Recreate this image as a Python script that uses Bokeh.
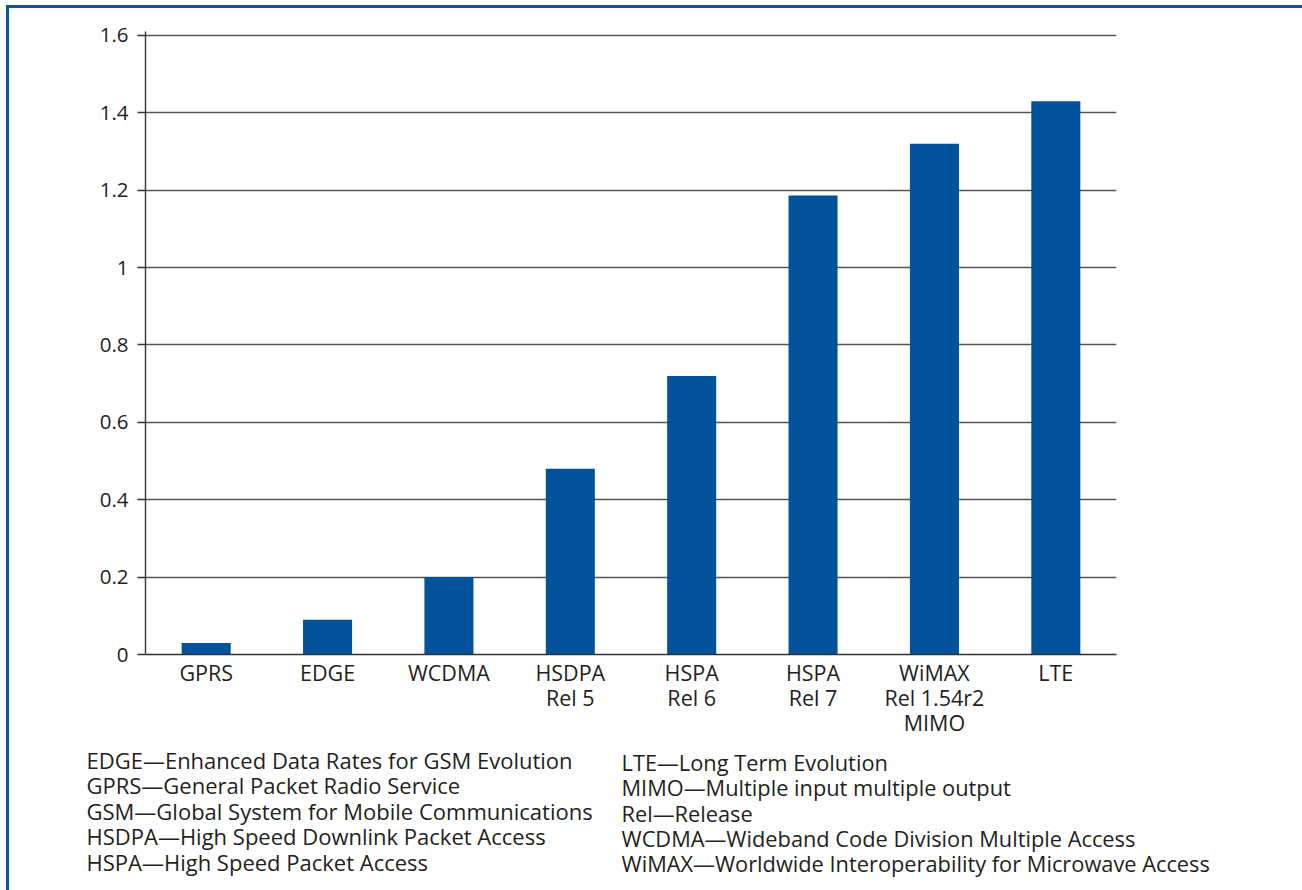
from bokeh.plotting import figure
from bokeh.layouts import column
from bokeh.models import FactorRange, Range1d, FixedTicker
from bokeh.core.properties import value
from bokeh.embed import file_html
from bokeh.resources import INLINE

# ---- data ----
categories = ["GPRS", "EDGE", "WCDMA", "HSDPA\nRel 5", "HSPA\nRel 6",
              "HSPA\nRel 7", "WiMAX\nRel 1.54r2\nMIMO", "LTE"]
values = [0.03, 0.09, 0.20, 0.48, 0.72, 1.186, 1.32, 1.43]
y_ticks = [0, 0.2, 0.4, 0.6, 0.8, 1, 1.2, 1.4, 1.6]
y_tick_labels = ["0", "0.2", "0.4", "0.6", "0.8", "1", "1.2", "1.4", "1.6"]
glossary_left = [
    "EDGE\u2014Enhanced Data Rates for GSM Evolution",
    "GPRS\u2014General Packet Radio Service",
    "GSM\u2014Global System for Mobile Communications",
    "HSDPA\u2014High Speed Downlink Packet Access",
    "HSPA\u2014High Speed Packet Access",
]
glossary_right = [
    "LTE\u2014Long Term Evolution",
    "MIMO\u2014Multiple input multiple output",
    "Rel\u2014Release",
    "WCDMA\u2014Wideband Code Division Multiple Access",
    "WiMAX\u2014Worldwide Interoperability for Microwave Access",
]

FONT = "Open Sans"
TEXT_COLOR = "#231f20"
BAR_COLOR = "#03529c"
BORDER_COLOR = "#0b57a5"

TOP_H = 738
# ---- chart ----
p = figure(
    width=1293, height=TOP_H,
    x_range=FactorRange(*categories, range_padding=0),
    y_range=Range1d(0, 1.61),
    output_backend="svg", toolbar_location=None, tools="",
    min_border_left=136, min_border_right=186,
    min_border_top=23, min_border_bottom=TOP_H - 646,
    background_fill_color="white", border_fill_color="white",
    outline_line_color=None, frame_align=False,
)

p.vbar(x=categories, top=values, width=0.404, fill_color=BAR_COLOR, line_color=None)

p.xgrid.visible = False
p.ygrid.ticker = FixedTicker(ticks=y_ticks)
p.ygrid.grid_line_color = "#555555"
p.ygrid.grid_line_width = 1.4

ya = p.yaxis[0]
ya.ticker = FixedTicker(ticks=y_ticks)
ya.major_label_overrides = dict(zip(y_ticks, y_tick_labels))
ya.axis_line_color = "#333333"
ya.axis_line_width = 1.4
ya.major_tick_line_color = "#333333"
ya.major_tick_line_width = 1.4
ya.major_tick_out = 8
ya.major_tick_in = 0
ya.minor_tick_line_color = None
ya.major_label_text_font = FONT
ya.major_label_text_font_size = "20.5px"
ya.major_label_text_color = TEXT_COLOR
ya.major_label_standoff = 9

xa = p.xaxis[0]
xa.axis_line_color = "#333333"
xa.axis_line_width = 1.6
xa.major_tick_line_color = None
xa.minor_tick_line_color = None
xa.major_label_text_font = FONT
xa.major_label_text_font_size = "21.5px"
xa.major_label_text_color = TEXT_COLOR
xa.major_label_standoff = -3
xa.major_label_text_line_height = 0.87

# ---- glossary panel (coordinates = page pixels) ----
G_TOP = 8 + TOP_H
g = figure(
    width=1293, height=882 - TOP_H,
    x_range=Range1d(9, 1302), y_range=Range1d(890, G_TOP),
    output_backend="svg", toolbar_location=None, tools="",
    min_border=0, min_border_left=0, min_border_right=0,
    min_border_top=0, min_border_bottom=0,
    outline_line_color=None, frame_align=False,
    background_fill_color="white", border_fill_color="white",
)
g.axis.visible = False
g.grid.visible = False

n_l = len(glossary_left)
g.text(x=[86] * n_l, y=[759 + i * 25.5 for i in range(n_l)], text=glossary_left,
       text_font=value(FONT), text_font_size="22px", text_color=TEXT_COLOR,
       text_baseline="middle", text_align="left")
n_r = len(glossary_right)
g.text(x=[621] * n_r, y=[762 + i * 25.3 for i in range(n_r)], text=glossary_right,
       text_font=value(FONT), text_font_size="21.8px", text_color=TEXT_COLOR,
       text_baseline="middle", text_align="left")

layout = column(p, g, spacing=0,
                styles={"border-left": f"3px solid {BORDER_COLOR}",
                        "border-top": f"3px solid {BORDER_COLOR}",
                        "margin-left": "6px", "margin-top": "5px"})

open("out.html", "w").write(file_html(layout, INLINE))
